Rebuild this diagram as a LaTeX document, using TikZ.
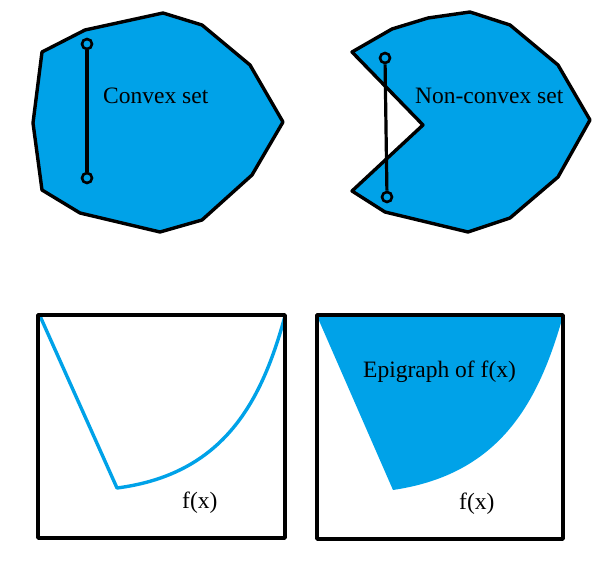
\documentclass[tikz,border=0pt]{standalone}
\usepackage{fontspec}
\setmainfont{Liberation Serif}
\usepackage{tikz}
\usetikzlibrary{positioning}
\definecolor{SetBlue}{HTML}{00A2E8}

\begin{document}
\begin{tikzpicture}[x=1pt,y=-1pt,
  rim/.style={draw=black,line width=3.4pt,line join=round},
  settext/.style={font=\fontsize{23.5}{28}\selectfont,text=black,inner sep=0pt,anchor=base west},
  endpt/.style={circle,draw=black,line width=2.6pt,minimum size=10pt,inner sep=0pt},
  chord/.style={draw=black,line width=3.2pt},
  fcurve/.style={draw=SetBlue,line width=3.4pt,line join=round}
]
\useasboundingbox (0,0) rectangle (607,569);
% convex set
\path[rim,fill=SetBlue] (42,52) -- (85,30) -- (163,13) -- (202,25) -- (250,65) -- (283,122)
  -- (252,175) -- (202,220) -- (160,232) -- (80,213) -- (42,190) -- (33,123) -- cycle;
\node[endpt] (cA) at (87,44) {};
\node[endpt] (cB) at (87,178) {};
\draw[chord] (cA) -- (cB);
\node[settext] (convex) at (103,104) {Convex set};
% non-convex set
\path[rim,fill=SetBlue] (352,52) -- (392,29) -- (428,18) -- (470,12) -- (510,25) -- (558,65) -- (590,120)
  -- (558,177) -- (510,218) -- (468,232) -- (385,212) -- (352,191) -- (423,125) -- cycle;
\node[endpt] (nA) at (385,58) {};
\node[endpt] (nB) at (387,197) {};
\draw[chord] (nA) -- (nB);
\node[settext] (nonconvex) at (415,104) {Non-convex set};
% function
\draw[fcurve] (40,316) -- (117,488) .. controls (225,474) and (262,400) .. (285,316);
\draw[rim] (38,315) rectangle (285,538);
\node[settext] (fx) at (182,508) {f(x)};
% epigraph
\fill[SetBlue] (317,316) -- (393,490) .. controls (502,474) and (539,400) .. (563,316) -- cycle;
\draw[rim] (317,315) rectangle (563,539);
\node[settext] (epi) at (363,377) {Epigraph of f(x)};
\node[settext] (fx2) at (459,509) {f(x)};
\end{tikzpicture}
\end{document}
